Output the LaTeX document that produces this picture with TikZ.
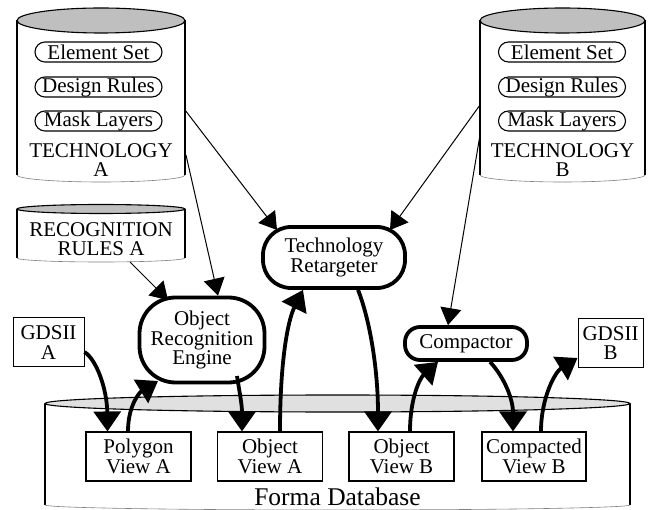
\documentclass[tikz,border=0pt]{standalone}
\usepackage{fontspec}
\setmainfont{Liberation Serif}
\usetikzlibrary{arrows.meta,calc}

\definecolor{drumtop}{gray}{0.75}
\definecolor{dbtop}{gray}{0.88}

\begin{document}
\begin{tikzpicture}[x=1pt,y=-1pt,
  every node/.style={font=\fontsize{21}{19.5}\selectfont, inner sep=0pt, align=center},
  pill/.style={draw, line width=1.1pt, rounded corners=10pt, minimum width=127pt, minimum height=20pt},
  tool/.style={draw, line width=3.8pt, fill=white},
  viewbox/.style={draw, line width=1.1pt, fill=white, minimum width=105pt, minimum height=49pt},
  gdsbox/.style={draw, line width=1pt, fill=white, minimum width=71pt, minimum height=49pt},
  thinflow/.style={line width=1pt, -{Triangle[length=17pt,width=21pt]}},
  thickflow/.style={line width=3.8pt, -{Triangle[length=20pt,width=27pt]}},
  drumside/.style={line width=1.1pt},
  drumbottom/.style={line width=0.6pt, gray}]

\useasboundingbox (0,0) rectangle (653,510);

% ---------- Technology A drum ----------
\fill[white] (17,20.5) rectangle (185,175);
\draw[drumside] (17,20.5) -- (17,175) (185,20.5) -- (185,175);
\draw[drumbottom] (17,175) arc[start angle=180, end angle=0, x radius=84, y radius=7];
\draw[drumside, fill=drumtop] (101,20.5) ellipse[x radius=84, y radius=12.5];
\node[pill] (esA) at (98.5,52) {Element Set};
\node[pill] (drA) at (98.5,87) {Design Rules};
\node[pill] (mlA) at (98.5,121) {Mask Layers};
\node (techA) at (101,160) {TECHNOLOGY\\A};
\coordinate (techAout1) at (185,110);
\coordinate (techAout2) at (186,155);

% ---------- Technology B drum ----------
\fill[white] (480,20.5) rectangle (645,175);
\draw[drumside] (480,20.5) -- (480,175) (645,20.5) -- (645,175);
\draw[drumbottom] (480,175) arc[start angle=180, end angle=0, x radius=82.5, y radius=7];
\draw[drumside, fill=drumtop] (562.5,20.5) ellipse[x radius=82.5, y radius=12.5];
\node[pill] (esB) at (562,52) {Element Set};
\node[pill] (drB) at (562,87) {Design Rules};
\node[pill] (mlB) at (562,121) {Mask Layers};
\node (techB) at (562.5,160) {TECHNOLOGY\\B};
\coordinate (techBout1) at (480,105);
\coordinate (techBout2) at (480,135);

% ---------- Recognition rules drum ----------
\draw[drumside] (17,209) -- (17,258) (185,209) -- (185,258);
\draw[drumbottom] (17,258) arc[start angle=180, end angle=0, x radius=84, y radius=4];
\draw[drumside, fill=drumtop] (101,209) ellipse[x radius=84, y radius=4.5];
\node (rules) at (101,239) {RECOGNITION\\RULES A};
\coordinate (rulesout) at (130,262);

% ---------- Forma database drum ----------
\draw[drumside] (45,403.5) -- (45,505) (630,403.5) -- (630,505);
\draw[drumbottom] (45,505) arc[start angle=180, end angle=0, x radius=292.5, y radius=5];
\draw[drumside, fill=dbtop] (337.5,403.5) ellipse[x radius=292.5, y radius=8.5];
\node[anchor=base, font=\fontsize{25.5}{25.5}\selectfont] (forma) at (337.5,505) {Forma Database};

% ---------- Tools ----------
\node[tool, rounded corners=36pt, minimum width=125pt, minimum height=85pt] (ore) at (202,340) {Object\\Recognition\\Engine};
\node[tool, rounded corners=28pt, minimum width=142pt, minimum height=61pt] (tr) at (334,257.5) {Technology\\Retargeter};
\node[tool, rounded corners=15pt, minimum width=122pt, minimum height=33pt] (comp) at (466,343.5) {Compactor};

% ---------- Stream files ----------
\node[gdsbox] (gA) at (48.5,342.5) {GDSII\\A};
\node[gdsbox, minimum width=65pt] (gB) at (610.5,343) {GDSII\\B};

% ---------- Database views ----------
\node[viewbox] (pva) at (138.5,456.5) {Polygon\\View A};
\node[viewbox] (ova) at (270,456.5) {Object\\View A};
\node[viewbox] (ovb) at (401.5,456.5) {Object\\View B};
\node[viewbox, minimum width=104pt] (cvb) at (534,456.5) {Compacted\\View B};

% ---------- Technology inputs ----------
\draw[thinflow] (techAout1) -- ($(tr.center)+(-57,-27.5)$);
\draw[thinflow] (techAout2) -- ($(ore.north)+(16,0)$);
\draw[thinflow] (techBout1) -- ($(tr.center)+(56,-27.5)$);
\draw[thinflow] (techBout2) -- ($(comp.north)+(-18,0)$);
\draw[thinflow] (rulesout) -- ($(ore.center)+(-34,-40)$);

% ---------- Data flow ----------
\draw[thickflow] ($(gA.east)+(0,9.5)$) .. controls (97,360) and (107,390) .. ($(pva.north)+(-31,0)$);
\draw[thickflow] ($(pva.north)+(-10.5,0)$) .. controls (128,405) and (140,392) .. ($(ore.center)+(-44,41)$);
\draw[thickflow] ($(ore.center)+(35,36)$) .. controls (240,395) and (242,405) .. ($(ova.north)+(-28,0)$);
\draw[thickflow] ($(ova.north)+(10,0)$) .. controls (280,360) and (288,320) .. ($(tr.south)+(-31,0)$);
\draw[thickflow] ($(tr.south)+(24,0)$) .. controls (370,320) and (378,370) .. ($(ovb.north)+(-23.5,0)$);
\draw[thickflow] ($(ovb.north)+(8.5,0)$) .. controls (410,398) and (420,378) .. ($(comp.south)+(-28,0)$);
\draw[thickflow] ($(comp.south)+(24,0)$) .. controls (505,378) and (513,400) .. ($(cvb.north)+(-21,0)$);
\draw[thickflow] ($(cvb.north)+(7,0)$) .. controls (541,398) and (555,372) .. ($(gB.west)+(0,15)$);

\end{tikzpicture}
\end{document}
